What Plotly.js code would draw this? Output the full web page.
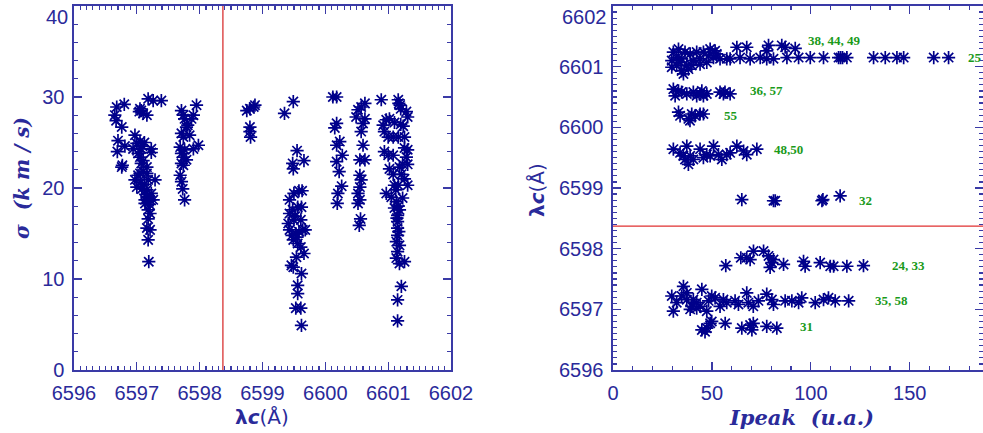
<!DOCTYPE html>
<html>
<head>
<meta charset="utf-8">
<script src="https://cdn.plot.ly/plotly-3.0.1.min.js"></script>
<style>html,body{margin:0;padding:0;background:#fff;}#chart{width:983px;height:433px;}</style>
</head>
<body>
<div id="chart"></div>
<script>
// ---- Left panel: sigma vs lambda_c ----
const leftLambda = [
6596.68,6596.80,6596.65,6596.67,6596.76,6596.70,6596.69,6596.81,6596.76,6596.77,
6596.97,6597.05,6597.07,6597.10,6597.04,6597.16,6597.18,6597.26,6597.39,6596.94,
6597.00,6597.05,6597.07,6597.02,6597.23,6597.23,6597.10,6597.16,6597.29,6596.97,
6597.02,6597.05,6597.10,6597.00,6597.08,6597.16,6597.16,6597.23,6597.21,6597.13,
6597.18,6597.26,6597.18,6597.21,6597.16,6597.21,6597.18,6597.19,6597.05,6597.07,
6597.13,6597.18,6597.16,6597.12,6597.06,6597.20,6597.14,6597.09,6597.12,
6597.71,6597.74,6597.76,6597.90,6597.87,6597.95,6597.81,6597.79,6597.71,6597.74,
6597.84,6597.98,6597.90,6597.69,6597.71,6597.74,6597.76,6597.79,6597.71,6597.74,
6597.69,6597.71,6597.73,6597.76,
6598.75,6598.80,6598.86,6598.88,6598.80,6598.80,6598.81,
6599.35,6599.49,6599.55,6599.48,6599.49,6599.66,6599.43,6599.50,6599.58,6599.63,
6599.43,6599.48,6599.56,6599.62,6599.41,6599.43,6599.50,6599.53,6599.61,6599.64,
6599.68,6599.49,6599.56,6599.61,6599.66,6599.46,6599.49,6599.54,6599.62,6599.56,
6599.56,6599.53,6599.61,6599.62,6599.52,6599.58,6599.47,6599.55,
6600.12,6600.18,6600.18,6600.15,6600.23,6600.18,6600.27,6600.18,6600.22,6600.26,
6600.20,6600.19,
6600.57,6600.63,6600.52,6600.49,6600.63,6600.60,6600.57,6600.60,6600.55,6600.63,
6600.55,6600.57,6600.55,6600.52,6600.55,6600.52,6600.56,6600.54,
6600.89,6601.16,6601.17,6601.19,6601.20,6601.29,6601.31,6600.97,6601.02,6600.92,
6600.94,6601.10,6601.20,6601.24,6601.00,6601.08,6601.16,6601.26,6600.94,6601.00,
6601.08,6601.26,6601.31,6601.29,6601.31,6601.23,6601.18,6601.02,6601.08,6601.21,
6601.26,6601.31,6601.16,6601.10,6600.97,6601.05,6601.13,6601.23,6601.10,6601.18,
6601.15,6601.15,6601.15,6601.15,6601.13,6601.18,6601.15,6601.13,6601.18,6601.26,
6601.21,6601.15,6601.15,6601.12,6601.16,6601.14,6601.17
];
const leftSigma = [
28.9,29.2,28.0,27.4,26.7,25.2,24.0,24.6,22.3,22.5,
25.8,28.7,28.5,28.2,28.4,28.0,29.8,29.6,29.6,24.3,
24.9,25.1,24.3,23.8,24.3,23.9,23.0,22.3,20.9,20.9,
21.4,21.6,21.8,20.1,19.9,19.8,19.0,19.4,18.7,18.3,
17.6,18.7,16.6,17.2,15.6,15.4,14.3,11.9,23.4,22.7,
18.7,20.9,21.6,20.4,20.6,18.2,19.3,24.6,25.0,
28.5,28.0,27.6,28.0,27.6,29.1,26.9,26.7,26.0,25.6,
25.8,24.7,24.3,24.5,23.8,23.4,24.2,23.1,22.7,22.5,
21.4,20.7,19.9,18.7,
28.5,28.7,28.9,29.1,26.7,26.2,25.6,
28.2,29.5,24.1,22.7,22.1,23.0,18.7,19.4,19.7,19.7,
17.2,17.6,17.9,17.9,16.1,15.4,16.5,15.0,16.5,15.4,
15.4,14.3,13.9,13.5,12.8,11.5,11.3,12.4,10.6,9.3,
8.4,6.8,6.8,4.9,16.9,15.2,14.8,14.6,
30.0,30.0,27.1,26.6,25.1,24.7,23.6,22.9,21.8,20.2,
19.4,18.3,
28.9,29.3,28.6,27.8,27.6,27.1,26.2,24.7,23.1,23.1,
21.4,20.9,20.1,19.4,18.7,18.3,16.6,15.9,
29.7,29.7,29.3,29.1,28.7,28.4,27.8,27.5,27.6,26.9,
26.2,27.2,27.0,26.8,25.6,25.6,25.6,25.6,24.0,23.6,
23.6,24.4,24.2,23.4,22.6,22.6,22.3,22.1,21.5,21.5,
21.0,20.3,20.3,20.3,19.4,19.0,18.5,18.9,17.8,17.6,
17.0,16.3,15.6,14.8,14.1,13.7,13.0,12.3,11.7,11.9,
9.2,7.7,5.4,19.8,18.0,16.7,15.2
];

// ---- Right panel: lambda_c vs Ipeak ----
const rightIpeak = [
93.8,99.7,106.4,114.0,118.2,131.7,137.6,143.5,146.9,162.1,169.6,115.0,116.0,
78.6,85.3,87.0,92.1,62.6,67.6,77.7,
59.2,64.2,69.3,74.4,81.1,87.9,77.7,
30.5,32.2,33.9,29.7,34.7,35.6,37.3,39.0,40.6,42.3,44.0,45.7,47.4,49.1,50.8,52.4,54.1,
33.1,36.4,38.1,39.8,44.0,48.3,51.6,57.5,32.2,34.7,29.7,
30.5,31.4,33.1,34.7,37.3,40.6,42.3,44.9,45.7,47.4,54.1,55.8,59.2,56.6,44.0,
33.1,33.9,38.1,39.8,41.5,44.0,45.7,38.9,
30.5,33.9,37.3,36.4,38.1,39.0,40.6,44.0,45.7,49.1,50.8,53.3,55.0,59.2,62.6,66.0,67.6,72.7,35.6,47.4,57.5,
65.1,81.1,82.0,105.6,106.1,114.8,
57.0,64.6,69.3,71.0,76.1,78.6,80.3,79.4,86.2,96.3,97.1,104.7,109.8,111.5,118.2,126.6,67.6,81.1,
29.7,30.5,32.2,35.6,34.7,37.3,39.8,40.6,42.3,44.0,44.9,47.4,49.9,51.6,54.1,55.8,57.5,61.7,63.4,67.6,
68.4,70.9,73.5,77.7,80.3,81.1,87.0,90.4,93.8,95.4,102.2,106.4,108.9,112.3,119.1,37.3,39.0,42.3,48.3,
44.9,47.4,49.1,49.9,56.7,65.1,69.3,70.2,70.9,77.7,82.8,46.5
];
const rightLambda = [
6601.15,6601.15,6601.15,6601.15,6601.15,6601.15,6601.15,6601.15,6601.15,6601.15,6601.15,6601.15,6601.15,
6601.35,6601.35,6601.32,6601.30,6601.32,6601.32,6601.26,
6601.13,6601.15,6601.13,6601.15,6601.13,6601.15,6601.13,
6601.24,6601.15,6601.07,6600.99,6600.93,6600.88,6601.02,6601.21,6601.10,6601.24,6601.13,6601.24,6601.07,6601.29,6601.15,6601.21,6601.13,
6601.29,6601.24,6600.96,6601.02,6601.04,6601.18,6601.26,6601.13,6601.02,6601.13,6601.10,
6600.63,6600.52,6600.60,6600.58,6600.55,6600.58,6600.52,6600.60,6600.52,6600.55,6600.58,6600.55,6600.55,6600.58,6600.55,
6600.25,6600.19,6600.14,6600.22,6600.19,6600.22,6600.22,6600.11,
6599.64,6599.58,6599.69,6599.47,6599.39,6599.53,6599.47,6599.64,6599.50,6599.53,6599.69,6599.55,6599.47,6599.58,6599.69,6599.61,6599.55,6599.64,6599.53,6599.55,6599.55,
6598.81,6598.79,6598.79,6598.79,6598.81,6598.87,
6597.72,6597.85,6597.82,6597.96,6597.96,6597.88,6597.77,6597.69,6597.74,6597.79,6597.71,6597.77,6597.71,6597.71,6597.71,6597.72,6597.85,6597.82,
6597.22,6596.97,6597.11,6597.38,6597.22,6597.16,6597.05,6597.16,6597.11,6597.05,6597.33,6596.97,6597.22,6597.19,6597.05,6597.16,6597.11,6597.14,6597.08,6597.27,
6597.11,6597.05,6597.14,6597.25,6597.16,6597.08,6597.14,6597.14,6597.11,6597.19,6597.11,6597.16,6597.19,6597.14,6597.14,6597.27,6597.00,6597.02,6597.14,
6596.66,6596.69,6596.77,6596.80,6596.77,6596.69,6596.74,6596.66,6596.77,6596.72,6596.69,6596.63
];

// ---- Group labels (right panel) ----
const labelTexts = ["38, 44, 49","25","36, 57","55","48,50","32","24, 33","35, 58","31"];
const labelX = [97.6,178.4,68.0,55.3,80.6,123.3,140.1,131.4,93.4];
const labelY = [6601.43,6601.15,6600.60,6600.20,6599.63,6598.80,6597.72,6597.14,6596.72];

// tick values
const sigmaTicks = [0,10,20,30];
const sigmaTop = 40;
const lambdaTicks = [6596,6597,6598,6599,6600,6601];
const lambdaTop = 6602;

// reference wavelength (red lines)
const refLambda = 6598.37;

const navy = "#00008b";
const axisBlue = "#3a3aa6";
const labelBlue = "#2a2a9a";
const W = 983, H = 433;
const tickFont = {family:"Liberation Sans, Arial, sans-serif", size:20, color:labelBlue};

const markerStyle = {symbol:"asterisk-open", size:11, color:navy, line:{color:navy, width:1.7}};

const traces = [
  {x:leftLambda, y:leftSigma, xaxis:"x", yaxis:"y", type:"scatter", mode:"markers", marker:markerStyle, hoverinfo:"skip"},
  {x:rightIpeak, y:rightLambda, xaxis:"x2", yaxis:"y2", type:"scatter", mode:"markers", marker:markerStyle, hoverinfo:"skip"}
];

function axisCommon(extra){
  return Object.assign({
    showgrid:false, zeroline:false, showline:true, linecolor:axisBlue, linewidth:1.6,
    mirror:"allticks", ticks:"inside", ticklen:8, tickwidth:1.2, tickcolor:axisBlue,
    tickfont:tickFont, ticklabeloverflow:"allow", fixedrange:true
  }, extra);
}

const yDom = [(H-370)/H, (H-6)/H];

const layout = {
  width:W, height:H,
  margin:{l:0, r:0, t:0, b:0},
  paper_bgcolor:"#ffffff", plot_bgcolor:"#ffffff",
  showlegend:false,
  xaxis: axisCommon({domain:[74/W, 451/W], range:[6596,6602], tick0:6596, dtick:1, anchor:"y",
    minor:{dtick:0.1, ticklen:4, tickcolor:axisBlue, ticks:"inside"}, ticklabelstandoff:4}),
  yaxis: axisCommon({domain:yDom, range:[0,sigmaTop], tickmode:"array", tickvals:sigmaTicks.concat([sigmaTop]),
    ticktext:sigmaTicks.map(String).concat([""]), anchor:"x",
    minor:{dtick:2, ticklen:4, tickcolor:axisBlue, ticks:"inside"}, ticklabelstandoff:4}),
  xaxis2: axisCommon({domain:[613/W, 1], range:[0,187], tick0:0, dtick:50, anchor:"y2",
    minor:{dtick:10, ticklen:4, tickcolor:axisBlue, ticks:"inside"}, ticklabelstandoff:4}),
  yaxis2: axisCommon({domain:yDom, range:[6596,lambdaTop], tickmode:"array", tickvals:lambdaTicks.concat([lambdaTop]),
    ticktext:lambdaTicks.map(String).concat([""]), anchor:"x2",
    minor:{dtick:0.1, ticklen:4, tickcolor:axisBlue, ticks:"inside"}, ticklabelstandoff:4}),
  shapes:[
    {type:"line", xref:"x", yref:"y", x0:refLambda, x1:refLambda, y0:0, y1:sigmaTop, line:{color:"#d62020", width:1.2}},
    {type:"line", xref:"x2", yref:"y2", x0:0, x1:187, y0:refLambda, y1:refLambda, line:{color:"#e03030", width:1.2}}
  ],
  annotations:[]
};

for (let i=0;i<labelTexts.length;i++){
  layout.annotations.push({xref:"x2", yref:"y2", x:labelX[i], y:labelY[i], text:"<b>"+labelTexts[i]+"</b>",
    showarrow:false, xanchor:"left", yanchor:"middle",
    font:{family:"Liberation Serif, Times New Roman, serif", size:13, color:"#1a9a1a"}});
}

// top tick labels (kept inside the picture)
layout.annotations.push(
  {xref:"x domain", yref:"y", x:0, y:sigmaTop, text:String(sigmaTop), showarrow:false, xanchor:"right", yanchor:"top",
   xshift:-4, yshift:2, font:tickFont},
  {xref:"x2 domain", yref:"y2", x:0, y:lambdaTop, text:String(lambdaTop), showarrow:false, xanchor:"right", yanchor:"top",
   xshift:-4, yshift:2, font:tickFont}
);

// axis titles
layout.annotations.push(
  {xref:"paper", yref:"paper", x:262/W, y:(H-417)/H, showarrow:false, xanchor:"center", yanchor:"middle",
   text:"<b>λ</b><b><i>c</i></b>(Å)", font:{family:"DejaVu Sans, sans-serif", size:20, color:labelBlue}},
  {xref:"paper", yref:"paper", x:22/W, y:(H-178)/H, showarrow:false, xanchor:"center", yanchor:"middle", textangle:-90,
   text:"<b><i>σ  (k m / s)</i></b>", font:{family:"DejaVu Serif, serif", size:20, color:labelBlue}},
  {xref:"paper", yref:"paper", x:537/W, y:(H-190)/H, showarrow:false, xanchor:"center", yanchor:"middle", textangle:-90,
   text:"<b>λ</b><b><i>c</i></b>(Å)", font:{family:"DejaVu Sans, sans-serif", size:20, color:labelBlue}},
  {xref:"paper", yref:"paper", x:801/W, y:(H-417)/H, showarrow:false, xanchor:"center", yanchor:"middle",
   text:"<b><i>Ipeak  (u.a.)</i></b>", font:{family:"DejaVu Serif, serif", size:21, color:labelBlue}}
);

Plotly.newPlot("chart", traces, layout, {staticPlot:true, displayModeBar:false});
</script>
</body>
</html>
